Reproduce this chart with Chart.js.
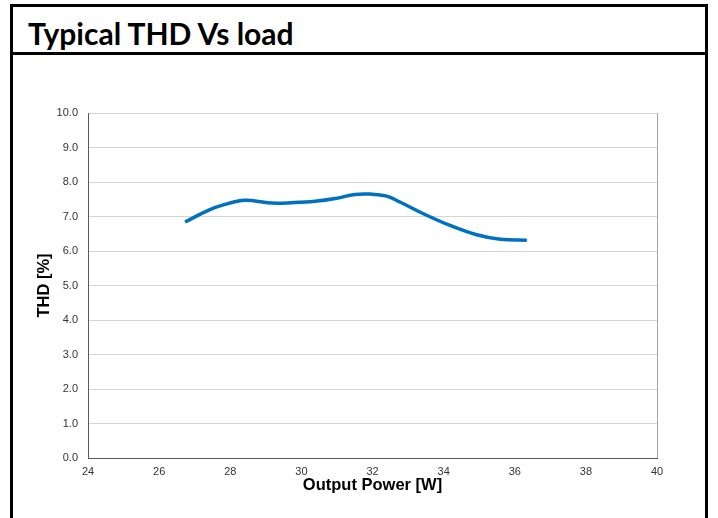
<!DOCTYPE html>
<html>
<head>
<meta charset="utf-8">
<script src="https://cdn.jsdelivr.net/npm/chart.js@4/dist/chart.umd.min.js"></script>
<style>
  html, body { margin: 0; padding: 0; background: #fff; width: 718px; height: 518px; overflow: hidden; }
  #box { position: absolute; left: 10px; top: 4px; width: 692px; height: 530px; border: 3px solid #000; box-sizing: content-box; }
  #title { position: absolute; left: 0; top: 0; width: 692px; height: 45px; border-bottom: 3px solid #000; }
  #title span { position: absolute; left: 15px; top: 8px; font-family: Lato, "Open Sans", sans-serif; font-weight: 700; font-size: 30px; color: #000; white-space: nowrap; }
  #wrap { position: absolute; left: 0; top: 0; width: 718px; height: 518px; }
</style>
</head>
<body>
<div id="box"><div id="title"><span>Typical THD Vs load</span></div></div>
<div id="wrap"><canvas id="c" width="718" height="518"></canvas></div>
<script>
const outputPower = [26.73, 27.38, 27.85, 28.37, 28.70, 29.17, 29.73, 30.38, 30.95, 31.51, 31.93, 32.40, 32.77, 33.43, 34.18, 34.93, 35.59, 36.34];
const thdPercent  = [6.84, 7.18, 7.35, 7.47, 7.45, 7.39, 7.40, 7.44, 7.52, 7.64, 7.65, 7.59, 7.42, 7.08, 6.74, 6.47, 6.34, 6.31];
const xTickValues = [24, 26, 28, 30, 32, 34, 36, 38, 40];
const yTickValues = [0, 1, 2, 3, 4, 5, 6, 7, 8, 9, 10];
const xTitle = 'Output Power [W]';
const yTitle = 'THD [%]';

const points = outputPower.map((x, i) => ({ x: x, y: thdPercent[i] }));

const frame = {
  id: 'frame',
  afterDraw(chart) {
    const { ctx, chartArea: a } = chart;
    ctx.save();
    ctx.strokeStyle = '#a6a6a6';
    ctx.lineWidth = 1;
    ctx.beginPath();
    ctx.moveTo(Math.round(a.right) + 0.5, a.top);
    ctx.lineTo(Math.round(a.right) + 0.5, a.bottom);
    ctx.stroke();
    ctx.restore();
  }
};

new Chart(document.getElementById('c'), {
  type: 'scatter',
  data: {
    datasets: [{
      data: points,
      showLine: true,
      borderColor: '#0070C0',
      backgroundColor: '#0070C0',
      borderWidth: 3.5,
      pointRadius: 0,
      tension: 0.4,
      borderCapStyle: 'butt'
    }]
  },
  options: {
    responsive: false,
    animation: false,
    layout: { padding: { left: 35, top: 113, right: 61, bottom: 23 } },
    plugins: { legend: { display: false }, tooltip: { enabled: false } },
    scales: {
      x: {
        type: 'linear',
        min: 24, max: 40,
        afterBuildTicks: s => { s.ticks = xTickValues.map(v => ({ value: v })); },
        grid: { display: false, drawTicks: false },
        border: { display: true, color: '#595959', width: 1 },
        ticks: { padding: 7, color: '#333', font: { family: 'Liberation Sans, Arial', size: 11 }, maxRotation: 0 },
        title: { display: true, text: xTitle, color: '#000', padding: { top: -10, bottom: 0 }, font: { family: 'Liberation Sans, Arial', size: 16.5, weight: 'bold' } }
      },
      y: {
        type: 'linear',
        min: 0, max: 10,
        afterBuildTicks: s => { s.ticks = yTickValues.map(v => ({ value: v })); },
        afterFit: s => { s.width = 53; },
        grid: { color: '#d4d4d4', lineWidth: 1, drawTicks: false },
        border: { display: true, color: '#595959', width: 1 },
        ticks: { padding: 10, color: '#333', font: { family: 'Liberation Sans, Arial', size: 11 }, callback: v => Number(v).toFixed(1) },
        title: { display: true, text: yTitle, color: '#000', padding: { top: 0, bottom: 0 }, font: { family: 'Liberation Sans, Arial', size: 16.5, weight: 'bold' } }
      }
    }
  },
  plugins: [frame]
});
</script>
</body>
</html>
